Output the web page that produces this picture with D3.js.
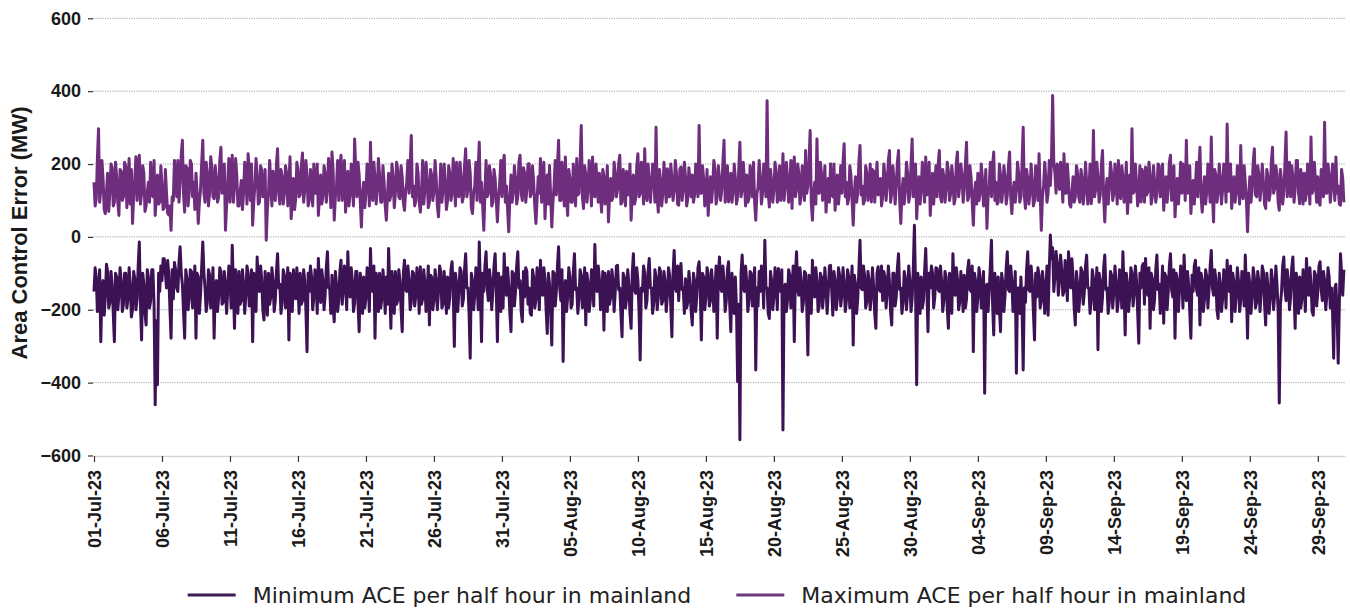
<!DOCTYPE html>
<html>
<head>
<meta charset="utf-8">
<script src="https://cdn.jsdelivr.net/npm/d3@7"></script>
<style>
  body { margin: 0; background: #fff; }
  svg { display: block; }
</style>
</head>
<body>
<div id="container"></div>
<script>
// values, one point every 2 hours (12 per day) from 01-Jul-23
const maxAce = [
  150,85,105,215,297,95,130,210,160,75,64,120,
  175,70,120,200,190,85,95,205,165,95,59,185,
  180,100,110,205,195,80,140,215,90,185,37,110,
  160,220,100,185,224,90,120,195,175,70,85,120,
  150,95,205,120,110,210,59,110,170,90,95,195,
  140,75,80,185,120,65,60,85,18,110,100,210,
  170,110,210,95,150,225,265,120,68,195,190,85,
  120,210,200,110,150,75,175,120,37,95,130,200,
  265,120,95,205,175,85,120,220,190,110,105,195,
  160,95,110,210,246,120,125,200,18,85,150,215,
  95,185,224,95,140,215,170,85,85,125,155,75,
  120,205,180,90,228,185,100,200,32,95,145,215,
  170,90,95,195,185,110,110,185,-9,75,120,210,
  150,85,180,110,100,200,242,120,90,185,165,90,
  120,195,175,85,140,220,50,100,160,75,105,205,
  185,110,115,195,230,95,130,210,165,85,100,185,
  150,85,200,120,120,200,59,110,170,90,110,195,
  175,95,130,215,165,80,233,185,46,110,140,210,
  100,195,224,100,150,210,68,120,180,85,120,200,
  140,85,269,185,110,205,170,95,27,120,150,80,
  120,200,185,85,260,125,100,205,160,90,130,215,
  170,95,95,195,150,85,46,115,175,100,115,200,
  160,80,120,205,185,110,105,195,165,95,73,125,
  150,210,120,195,278,110,140,85,100,200,175,95,
  68,120,210,90,130,205,160,80,95,185,170,100,
  125,210,160,85,55,120,200,95,130,200,150,75,
  100,195,175,100,120,215,150,85,205,120,110,205,
  165,95,110,195,242,110,130,210,175,80,64,120,
  140,205,100,185,260,95,150,85,18,120,210,110,
  120,195,170,85,95,185,160,100,41,110,145,210,
  110,200,224,95,140,75,14,110,170,95,125,195,
  160,90,110,205,224,120,100,190,175,95,130,200,
  201,110,120,195,150,85,37,100,165,120,215,95,
  130,205,50,120,170,90,196,110,27,95,140,210,
  115,195,265,100,100,205,150,85,219,110,59,185,
  160,95,95,200,140,85,215,115,120,205,306,110,
  78,195,170,95,130,210,160,85,219,120,110,200,
  150,95,175,110,68,185,165,90,120,195,41,115,
  160,100,110,205,175,110,130,200,224,90,95,185,
  150,85,180,115,120,200,46,120,170,90,105,195,
  228,110,120,205,160,90,242,120,100,200,150,95,
  140,200,175,95,301,110,68,185,155,85,120,205,
  145,95,187,110,110,200,160,100,130,210,175,90,
  87,185,192,100,130,205,165,85,105,190,150,110,
  170,95,115,200,150,110,306,120,120,195,160,85,
  105,185,59,120,165,95,135,210,185,90,110,195,
  160,100,130,205,265,95,120,195,96,120,175,95,
  125,200,160,90,110,185,260,110,130,205,150,85,
  170,95,105,195,150,110,205,95,46,120,135,210,
  160,90,120,200,175,110,374,120,82,185,150,95,
  130,205,180,95,115,195,100,120,228,100,140,205,
  165,95,125,210,78,185,219,110,130,200,175,90,
  110,195,170,100,237,120,140,205,292,95,46,120,
  150,90,269,120,120,205,175,100,130,195,68,120,
  160,95,201,115,110,200,73,120,170,90,130,195,
  120,205,256,110,150,90,105,195,170,100,32,120,
  165,95,120,205,251,115,140,90,100,195,175,100,
  130,200,96,185,180,95,150,205,115,120,160,85,
  110,200,170,100,135,210,237,95,120,195,155,90,
  140,205,237,100,37,120,160,90,125,205,175,95,
  115,195,269,110,140,200,50,115,165,90,130,205,
  150,95,219,115,120,205,59,120,175,90,140,195,
  110,200,237,110,96,185,165,95,130,205,180,100,
  120,195,160,90,105,205,233,110,140,200,170,95,
  130,200,260,100,110,195,165,95,32,120,150,90,
  175,100,120,200,160,85,105,185,23,110,140,205,
  110,195,233,100,150,90,95,200,170,95,125,195,
  165,90,115,195,233,110,64,125,150,95,130,205,
  175,95,110,200,301,115,78,185,160,90,120,200,
  150,85,100,195,170,100,228,120,18,110,140,205,
  160,95,120,210,141,215,388,205,175,120,200,185,
  130,205,170,95,228,120,120,200,150,90,82,120,
  165,95,110,195,175,110,95,185,160,90,125,205,
  150,90,120,200,91,120,292,110,130,205,165,95,
  115,195,237,110,41,125,160,90,135,205,175,100,
  120,200,150,90,210,115,105,195,165,95,130,205,
  64,120,170,95,297,120,125,200,150,85,110,195,
  96,185,160,95,192,115,125,205,170,90,110,195,
  150,95,120,200,196,110,140,200,73,120,165,95,
  130,205,224,100,110,195,55,120,160,90,140,205,
  120,200,170,100,265,120,130,195,64,125,155,90,
  140,205,110,185,246,110,68,125,165,90,125,200,
  150,95,274,120,41,185,170,95,120,200,160,90,
  130,200,175,95,310,125,140,200,78,120,165,95,
  120,195,160,90,251,120,105,195,150,100,14,110,
  165,95,130,205,242,115,110,195,170,100,140,200,
  150,90,78,185,165,100,120,205,246,120,135,195,
  170,95,73,185,150,90,125,200,288,110,140,205,
  110,195,165,95,130,210,210,120,91,185,150,90,
  175,100,120,200,160,90,274,120,130,205,145,95,
  165,95,87,185,150,110,315,120,120,200,170,95,
  130,200,175,100,219,120,140,90,87,185,160,95
];

const minAce = [
  -150,-85,-110,-205,-175,-90,-288,-140,-120,-215,-165,-75,
  -95,-195,-180,-95,-130,-210,-288,-100,-110,-200,-160,-85,
  -120,-205,-185,-100,-100,-195,-170,-85,-130,-220,-200,-95,
  -115,-200,-170,-80,-14,-185,-283,-100,-130,-210,-242,-90,
  -110,-195,-175,-90,-90,-185,-461,-230,-406,-100,-150,-80,
  -120,-60,-60,-100,-140,-65,-100,-195,-278,-90,-170,-70,
  -90,-140,-150,-70,-27,-100,-130,-205,-278,-90,-115,-200,
  -170,-90,-95,-195,-150,-80,-278,-100,-110,-210,-160,-85,
  -14,-100,-140,-205,-180,-90,-105,-195,-155,-85,-278,-140,
  -120,-205,-165,-85,-95,-185,-180,-95,-130,-210,-150,-80,
  -110,-195,-23,-140,-251,-90,-140,-210,-95,-185,-175,-90,
  -130,-210,-160,-80,-100,-190,-175,-90,-288,-100,-120,-205,
  -55,-140,-150,-80,-115,-200,-228,-95,-140,-215,-100,-185,
  -165,-85,-120,-205,-175,-95,-46,-140,-130,-210,-180,-90,
  -105,-195,-160,-85,-283,-100,-120,-205,-90,-140,-170,-85,
  -135,-210,-100,-185,-175,-90,-120,-200,-315,-100,-150,-80,
  -110,-200,-165,-90,-130,-210,-59,-140,-180,-90,-120,-200,
  -160,-85,-41,-140,-140,-210,-105,-190,-233,-95,-130,-205,
  -175,-95,-64,-185,-150,-80,-110,-200,-41,-140,-165,-85,
  -120,-205,-180,-95,-95,-185,-260,-100,-140,-210,-110,-195,
  -165,-85,-130,-205,-32,-145,-150,-80,-278,-100,-120,-205,
  -100,-195,-170,-90,-135,-210,-110,-185,-32,-140,-251,-95,
  -140,-210,-95,-185,-175,-90,-120,-200,-260,-100,-64,-145,
  -150,-80,-115,-200,-180,-95,-100,-190,-160,-85,-130,-210,
  -82,-185,-170,-90,-125,-205,-160,-80,-242,-105,-110,-200,
  -175,-90,-120,-200,-150,-80,-95,-195,-185,-95,-140,-210,
  -110,-195,-165,-90,-68,-145,-301,-100,-130,-205,-150,-85,
  -95,-190,-170,-90,-46,-140,-140,-210,-333,-100,-120,-200,
  -160,-85,-110,-200,-14,-145,-288,-100,-150,-80,-41,-140,
  -175,-90,-120,-200,-150,-80,-46,-145,-288,-100,-130,-205,
  -110,-195,-46,-140,-160,-85,-135,-210,-260,-95,-100,-190,
  -150,-80,-41,-140,-120,-205,-233,-95,-165,-85,-95,-185,
  -140,-210,-215,-90,-110,-195,-170,-85,-125,-200,-64,-140,
  -160,-85,-115,-200,-265,-100,-130,-205,-297,-95,-100,-190,
  -150,-80,-27,-140,-175,-90,-342,-140,-120,-205,-165,-85,
  -110,-195,-185,-95,-46,-145,-140,-210,-170,-90,-105,-195,
  -160,-85,-242,-100,-125,-205,-175,-90,-100,-190,-21,-140,
  -150,-80,-115,-200,-180,-95,-256,-100,-130,-205,-95,-185,
  -165,-90,-120,-205,-150,-80,-78,-145,-140,-210,-274,-100,
  -110,-195,-170,-90,-130,-210,-251,-100,-46,-145,-155,-85,
  -120,-205,-338,-140,-150,-80,-100,-195,-175,-95,-59,-140,
  -140,-210,-180,-90,-110,-200,-165,-85,-95,-185,-175,-95,
  -125,-205,-160,-85,-105,-190,-274,-100,-37,-140,-150,-80,
  -175,-95,-73,-145,-140,-210,-115,-195,-180,-95,-130,-205,
  -242,-100,-120,-205,-160,-85,-68,-145,-283,-100,-110,-200,
  -165,-85,-100,-190,-175,-90,-130,-205,-150,-80,-278,-105,
  -55,-140,-150,-80,-120,-205,-175,-90,-68,-185,-260,-100,
  -140,-210,-110,-195,-397,-185,-557,-100,-50,-140,-150,-80,
  -120,-205,-175,-95,-100,-190,-160,-85,-365,-140,-190,-95,
  -150,-80,-110,-195,-9,-140,-140,-210,-224,-95,-120,-200,
  -165,-85,-115,-200,-87,-145,-150,-90,-530,-140,-130,-205,
  -175,-90,-105,-195,-150,-80,-288,-100,-41,-145,-160,-85,
  -120,-205,-180,-95,-100,-190,-324,-105,-140,-210,-64,-140,
  -165,-85,-120,-205,-190,-100,-110,-195,-155,-85,-135,-210,
  -150,-80,-78,-145,-215,-95,-120,-200,-170,-85,-105,-190,
  -160,-85,-125,-205,-175,-90,-110,-195,-150,-80,-297,-105,
  -130,-210,-170,-90,-9,-140,-145,-80,-105,-195,-180,-95,
  -120,-200,-160,-85,-135,-210,-251,-100,-82,-145,-150,-80,
  -175,-95,-110,-195,-150,-80,-125,-205,-242,-100,-100,-190,
  -165,-85,-46,-145,-140,-210,-180,-95,-115,-200,-155,-80,
  -120,-205,-170,-90,32,-140,-406,-100,-135,-210,-110,-195,
  -175,-95,-32,-145,-260,-100,-140,-80,-100,-195,-165,-85,
  -87,-145,-150,-80,-120,-205,-175,-95,-110,-195,-251,-100,
  -140,-210,-46,-140,-160,-85,-115,-200,-180,-95,-130,-205,
  -105,-195,-170,-90,-64,-145,-150,-80,-315,-100,-120,-205,
  -165,-85,-110,-195,-180,-95,-429,-140,-130,-205,-150,-80,
  -9,-185,-269,-100,-140,-210,-110,-195,-260,-100,-125,-205,
  -160,-85,-41,-145,-150,-80,-120,-205,-175,-95,-374,-140,
  -140,-210,-110,-195,-365,-140,-180,-90,-41,-145,-150,-80,
  -120,-205,-283,-100,-165,-85,-105,-195,-175,-95,-130,-210,
  -150,-80,-215,-90,5,-60,-30,-150,-110,-40,-70,-160,
  -120,-50,-90,-160,-150,-65,-100,-175,-41,-90,-140,-60,
  -110,-195,-242,-95,-130,-205,-165,-85,-95,-185,-150,-80,
  -50,-140,-140,-210,-175,-90,-115,-200,-160,-85,-310,-100,
  -120,-205,-165,-85,-50,-145,-140,-210,-180,-95,-105,-195,
  -150,-80,-125,-205,-175,-90,-110,-195,-41,-140,-269,-100,
  -130,-205,-165,-85,-100,-190,-150,-80,-120,-205,-292,-100,
  -140,-80,-73,-185,-59,-140,-160,-85,-251,-100,-115,-200,
  -170,-90,-50,-145,-130,-210,-155,-80,-237,-100,-110,-200,
  -150,-80,-46,-145,-165,-90,-278,-100,-120,-205,-140,-80,
  -105,-195,-50,-140,-175,-95,-130,-205,-278,-105,-150,-80,
  -64,-145,-160,-85,-242,-100,-120,-205,-170,-90,-110,-195,
  -145,-80,-37,-140,-160,-90,-115,-200,-224,-100,-130,-205,
  -170,-90,-110,-195,-64,-145,-150,-80,-233,-100,-125,-205,
  -160,-85,-120,-205,-175,-95,-105,-190,-50,-145,-278,-100,
  -130,-210,-165,-85,-110,-195,-180,-95,-125,-205,-150,-80,
  -96,-185,-242,-100,-140,-210,-170,-90,-120,-200,-155,-80,
  -130,-205,-456,-185,-150,-80,-55,-145,-175,-90,-120,-200,
  -165,-85,-55,-145,-251,-100,-140,-210,-110,-195,-170,-90,
  -125,-205,-59,-140,-160,-85,-130,-205,-215,-95,-105,-190,
  -150,-80,-68,-145,-175,-95,-120,-200,-160,-85,-110,-195,
  -140,-205,-333,-140,-130,-210,-347,-185,-46,-100,-160,-90
];

const startDate = "2023-07-01";
const endDate = "2023-10-01";
const stepHours = 2;

const tickDates = ["2023-07-01","2023-07-06","2023-07-11","2023-07-16","2023-07-21",
  "2023-07-26","2023-07-31","2023-08-05","2023-08-10","2023-08-15","2023-08-20",
  "2023-08-25","2023-08-30","2023-09-04","2023-09-09","2023-09-14","2023-09-19",
  "2023-09-24","2023-09-29"];
const yTicks = [-600, -400, -200, 0, 200, 400, 600];

const seriesNames = ["Minimum ACE per half hour in mainland", "Maximum ACE per half hour in mainland"];
const seriesColors = ["#3c1255", "#6e2d7d"];
const legendColors = ["#3d1b52", "#6b3a7c"];

const width = 1350;
const height = 608;

const svg = d3.select("div#container").append("svg")
    .attr("width", width)
    .attr("height", height);

const parse = d3.utcParse("%Y-%m-%d");
const t0 = parse(startDate);
const toDate = i => new Date(t0.getTime() + i * stepHours * 3600e3);

const xScale = d3.scaleUtc().domain([t0, parse(endDate)]).range([94, 1345]);
const yScale = d3.scaleLinear().domain([-600, 600]).range([455.5, 18.3]);

// dotted grid
svg.append("g")
    .selectAll("line")
    .data(yTicks.filter(v => v > -600))
    .join("line")
    .attr("x1", 93)
    .attr("x2", 1345)
    .attr("y1", d => yScale(d))
    .attr("y2", d => yScale(d))
    .attr("stroke", "#8a8a8a")
    .attr("stroke-width", 0.8)
    .attr("stroke-dasharray", "1.2,1.2");

// y axis: ticks + labels only
const yAxis = svg.append("g")
    .attr("transform", "translate(93,0)")
    .call(d3.axisLeft(yScale).tickValues(yTicks).tickSize(5).tickPadding(7));
yAxis.select(".domain").remove();
yAxis.selectAll(".tick line").attr("stroke", "#333").attr("stroke-width", 1.2);
yAxis.selectAll("text")
    .style("font-family", "'Liberation Sans', Arial, sans-serif")
    .style("font-weight", "bold")
    .style("font-size", "18px")
    .attr("fill", "#1a1a1a");

// x axis
const xAxis = svg.append("g")
    .attr("transform", "translate(0,456)")
    .call(d3.axisBottom(xScale)
        .tickValues(tickDates.map(parse))
        .tickFormat(d3.utcFormat("%d-%b-%y"))
        .tickSize(6)
        .tickSizeOuter(0));
xAxis.select(".domain").attr("stroke", "#d6d6d6").attr("stroke-width", 1.5);
xAxis.selectAll(".tick line").attr("stroke", "#333").attr("stroke-width", 1.2);
xAxis.selectAll("text")
    .attr("transform", "rotate(-90)")
    .attr("text-anchor", "end")
    .attr("x", -14)
    .attr("y", 0)
    .attr("dy", "0.35em")
    .style("font-family", "'Liberation Sans', Arial, sans-serif")
    .style("font-weight", "bold")
    .style("font-size", "18px")
    .attr("fill", "#1a1a1a");

// y title
svg.append("text")
    .attr("transform", "translate(19,233) rotate(-90)")
    .attr("text-anchor", "middle")
    .attr("dominant-baseline", "central")
    .style("font-family", "'Liberation Sans', Arial, sans-serif")
    .style("font-weight", "bold")
    .style("font-size", "22px")
    .attr("fill", "#1a1a1a")
    .text("Area Control Error (MW)");

// series
const line = d3.line()
    .x((d, i) => xScale(toDate(i)))
    .y(d => yScale(d));

[maxAce, minAce].forEach((vals, k) => {
    svg.append("path")
        .attr("d", line(vals))
        .attr("fill", "none")
        .attr("stroke", k == 0 ? seriesColors[1] : seriesColors[0])
        .attr("stroke-width", 3)
        .attr("stroke-linejoin", "round");
});

// legend, centred under the plot
const legend = svg.append("g");
const items = legend.selectAll("g")
    .data(seriesNames)
    .join("g");
items.append("line")
    .attr("x1", 0).attr("x2", 48)
    .attr("y1", 595).attr("y2", 595)
    .attr("stroke", (d, i) => legendColors[i])
    .attr("stroke-width", 3);
items.append("text")
    .attr("x", 65)
    .attr("y", 595)
    .attr("dominant-baseline", "central")
    .style("font-family", "'DejaVu Sans', sans-serif")
    .style("font-size", "22px")
    .attr("fill", "#222")
    .text(d => d);

let widths = [];
items.each(function() {
    widths.push(65 + d3.select(this).select("text").node().getComputedTextLength());
});
const gap = 45;
const total = d3.sum(widths) + gap;
let xPos = 717 - total / 2;
items.attr("transform", (d, i) => {
    const t = "translate(" + xPos + ",0)";
    xPos += widths[i] + gap;
    return t;
});
</script>
</body>
</html>
